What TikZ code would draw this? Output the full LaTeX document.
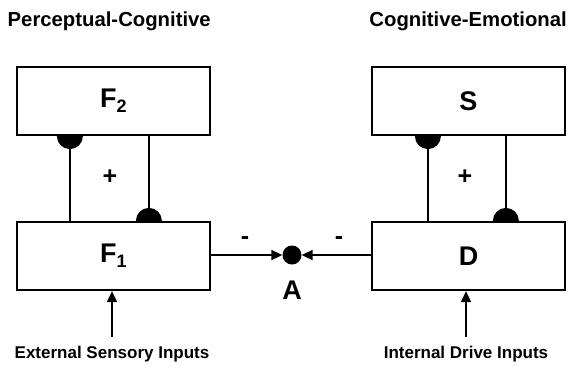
\documentclass[tikz,border=0pt]{standalone}
\usepackage{fontspec}
\setmainfont{Liberation Sans}
\usetikzlibrary{arrows.meta,calc}
\begin{document}
\begin{tikzpicture}[x=1pt,y=-1pt,
  box/.style={draw,line width=2.2pt,minimum width=193pt,minimum height=68pt,inner sep=0pt,font=\fontsize{27}{30}\selectfont\bfseries},
  title/.style={font=\fontsize{20.3}{23}\selectfont\bfseries,inner sep=0pt},
  inlabel/.style={font=\fontsize{17}{20}\selectfont\bfseries,inner sep=0pt},
  sign/.style={font=\fontsize{25}{28}\selectfont\bfseries,inner sep=0pt},
  conn/.style={line width=1.9pt},
  arr/.style={line width=1.9pt,-{Triangle[length=11pt,width=10pt]}}]
\useasboundingbox (0,0) rectangle (571,368);
% titles
\node[title,anchor=west] (t1) at (7.5,21) {Perceptual-Cognitive};
\node[title,anchor=east] (t2) at (567,21) {Cognitive-Emotional};
% boxes
\node[box] (F2) at (113.5,101) {F\raisebox{-0.35ex}{\fontsize{18}{20}\selectfont 2}};
\node[box] (F1) at (113.5,256) {F\raisebox{-0.35ex}{\fontsize{18}{20}\selectfont 1}};
\node[box] (S) at (468.5,101) {S};
\node[box] (D) at (468.5,256) {D};
% A
\node[circle,fill,minimum size=19pt,inner sep=0pt] (A) at (292,255) {};
\node[font=\fontsize{27}{30}\selectfont\bfseries,inner sep=0pt] (Alab) at (292,290) {A};
% left loop
\coordinate (l1) at ($(F2.south west)+(54,0)$);
\coordinate (l2) at ($(F2.south west)+(133,0)$);
\draw[conn] (l1) -- (l1 |- F1.north);
\draw[conn] (l2) -- (l2 |- F1.north);
\fill (l1) ++(-13,0) arc[start angle=180,end angle=0,radius=13] -- cycle;
\fill (l2 |- F1.north) ++(-13,0) arc[start angle=180,end angle=360,radius=13] -- cycle;
\node[sign] (p1) at (110,177) {+};
% right loop
\coordinate (r1) at ($(S.south west)+(57,0)$);
\coordinate (r2) at ($(S.south west)+(135,0)$);
\draw[conn] (r1) -- (r1 |- D.north);
\draw[conn] (r2) -- (r2 |- D.north);
\fill (r1) ++(-13,0) arc[start angle=180,end angle=0,radius=13] -- cycle;
\fill (r2 |- D.north) ++(-13,0) arc[start angle=180,end angle=360,radius=13] -- cycle;
\node[sign] (p2) at (465,177) {+};
% arrows to A
\draw[arr] (F1.east |- A) -- (A.west);
\draw[arr] (D.west |- A) -- (A.east);
\node[sign] (m1) at (245,241) {-};
\node[sign] (m2) at (339,241) {-};
% inputs
\node[inlabel] (ext) at (112,354) {External Sensory Inputs};
\node[inlabel] (int) at (466,354) {Internal Drive Inputs};
\draw[arr] ([yshift=9pt]ext.north) -- (ext.north |- F1.south);
\draw[arr] ([yshift=9pt]int.north) -- (int.north |- D.south);
\end{tikzpicture}
\end{document}
